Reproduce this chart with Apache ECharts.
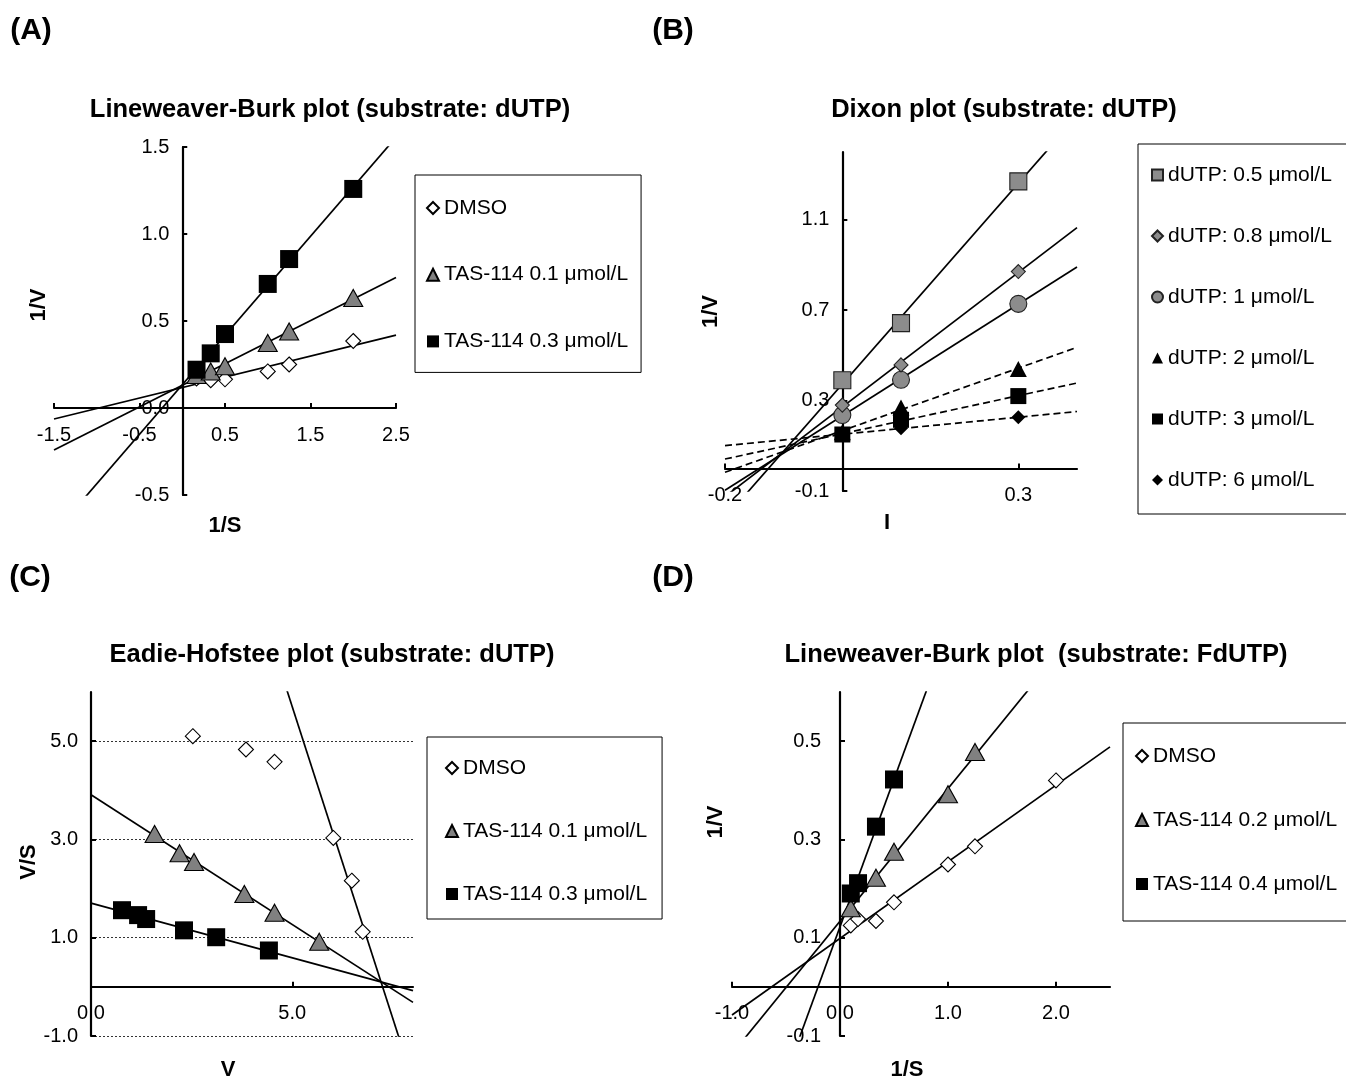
<!DOCTYPE html>
<html><head><meta charset="utf-8">
<script src="https://cdn.jsdelivr.net/npm/echarts@6/dist/echarts.min.js"></script>
<style>html,body{margin:0;padding:0;background:#fff}#c{width:1346px;height:1079px}</style>
</head><body><div id="c"></div>
<script>
// ---------- Panel A: Lineweaver-Burk (dUTP) ----------
const aInvS = [0.167, 0.333, 0.5, 1.0, 1.25, 2.0];
const aDMSO = [0.17, 0.16, 0.165, 0.21, 0.25, 0.385];
const aTAS01 = [0.19, 0.21, 0.24, 0.374, 0.44, 0.632];
const aTAS03 = [0.22, 0.314, 0.425, 0.713, 0.856, 1.259];
const aXTicks = [-1.5, -0.5, 0.5, 1.5, 2.5];
const aYTicks = [-0.5, 0, 0.5, 1.0, 1.5];
// ---------- Panel B: Dixon (dUTP) ----------
const bI = [0, 0.1, 0.3];
const bS05 = [0.39, 0.643, 1.27];
const bS08 = [0.28, 0.458, 0.871];
const bS1 = [0.236, 0.392, 0.728];
const bS2 = [0.16, 0.27, 0.44];
const bS3 = [0.15, 0.215, 0.32];
const bS6 = [0.15, 0.178, 0.226];
const bXTicks = [-0.2, 0.3];
const bYTicks = [-0.1, 0.3, 0.7, 1.1];
// ---------- Panel C: Eadie-Hofstee (dUTP) ----------
const cDMSO_V = [2.53, 3.85, 4.56, 6.02, 6.48, 6.75];
const cDMSO_VS = [5.10, 4.83, 4.58, 3.03, 2.16, 1.12];
const cDMSOFitFrom = 3;
const cTAS01_V = [1.58, 2.2, 2.56, 3.81, 4.56, 5.67];
const cTAS01_VS = [3.11, 2.72, 2.54, 1.89, 1.51, 0.92];
const cTAS03_V = [0.77, 1.17, 1.37, 2.31, 3.11, 4.42];
const cTAS03_VS = [1.56, 1.46, 1.38, 1.15, 1.01, 0.74];
const cXTicks = [0, 5];
const cYTicks = [-1, 1, 3, 5];
// ---------- Panel D: Lineweaver-Burk (FdUTP) ----------
const dDMSO_X = [0.1, 0.167, 0.333, 0.5, 1.0, 1.25, 2.0];
const dDMSO_Y = [0.125, 0.138, 0.134, 0.172, 0.249, 0.286, 0.42];
const dTAS02_X = [0.1, 0.333, 0.5, 1.0, 1.25];
const dTAS02_Y = [0.16, 0.222, 0.275, 0.392, 0.478];
const dTAS04_X = [0.1, 0.167, 0.333, 0.5];
const dTAS04_Y = [0.19, 0.211, 0.326, 0.422];
const dXTicks = [-1, 0, 1, 2];
const dYTicks = [-0.1, 0.1, 0.3, 0.5];

const FONT = 'Liberation Sans';

// layout of the four plot areas (pixels) and their value ranges
const grids = [
  { left: 54, top: 147, width: 342, height: 348 },
  { left: 725, top: 152, width: 352, height: 339 },
  { left: 91, top: 692, width: 322, height: 344 },
  { left: 732, top: 692, width: 378, height: 344 }
];
const xRanges = [[-1.5, 2.5], [-0.2, 0.4], [0, 8], [-1, 2.5]];
const yRanges = [[-0.5, 1.5], [-0.1, 1.4], [-1, 6], [-0.1, 0.6]];

function lsq(xs, ys, from) {
  from = from || 0;
  const X = xs.slice(from), Y = ys.slice(from), n = X.length;
  const mx = X.reduce((a, b) => a + b, 0) / n, my = Y.reduce((a, b) => a + b, 0) / n;
  let sxy = 0, sxx = 0;
  for (let i = 0; i < n; i++) { sxy += (X[i] - mx) * (Y[i] - my); sxx += (X[i] - mx) * (X[i] - mx); }
  const m = sxy / sxx;
  return { m: m, b: my - m * mx };
}
function trend(xs, ys, range, from) {
  const f = lsq(xs, ys, from);
  return range.map(x => [x, f.b + f.m * x]);
}
function pts(xs, ys) { return xs.map((x, i) => [x, ys[i]]); }

// offset that puts an axis on the zero line of the other axis
function zeroOffset(len, r) { return -len * (0 - r[0]) / (r[1] - r[0]); }

function axis(dim, gi, ticks, name, gap, pad, margin, split) {
  const range = dim === 'x' ? xRanges[gi] : yRanges[gi];
  const off = dim === 'x' ? zeroOffset(grids[gi].height, yRanges[gi]) : zeroOffset(grids[gi].width, xRanges[gi]);
  return {
    type: 'value', gridIndex: gi, min: range[0], max: range[1],
    position: dim === 'x' ? 'bottom' : 'left', offset: off,
    name: name, nameLocation: 'middle', nameGap: gap,
    nameTextStyle: { fontFamily: FONT, fontWeight: 'bold', fontSize: 22, color: '#000', padding: pad },
    axisLine: { show: true, onZero: false, lineStyle: { color: '#000', width: 2.2 } },
    axisTick: { show: true, inside: true, length: 5, customValues: ticks, lineStyle: { color: '#000', width: 2 } },
    axisLabel: { show: true, customValues: ticks, margin: margin, fontFamily: FONT, fontSize: 20, color: '#000',
      formatter: v => (Math.abs(v) < 1e-9 ? 0 : v).toFixed(1) },
    splitLine: split ? { show: true, lineStyle: { color: '#333', width: 1, type: [2, 2] } } : { show: false }
  };
}

function mk(symbol, size, fill, border) {
  return { symbol: symbol, symbolSize: size,
    itemStyle: { color: fill, borderColor: border || fill, borderWidth: border ? 1.1 : 0, opacity: 1 } };
}
const openDiamond = mk('diamond', [15, 15], '#ffffff', '#000000');
const grayTri = mk('triangle', [19, 17], '#808080', '#000000');
const blackSq = mk('rect', [18, 18], '#000000');
const graySq = mk('rect', [17, 17], '#8c8c8c', '#222222');
const grayDia = mk('diamond', [14, 14], '#8c8c8c', '#222222');
const grayCirc = mk('circle', 17, '#8c8c8c', '#222222');
const blackTri = mk('triangle', [17, 16], '#000000');
const blackSq2 = mk('rect', [16, 16], '#000000');
const blackDia = mk('diamond', [14, 14], '#000000');

function scatter(name, gi, data, style) {
  return Object.assign({ type: 'scatter', name: name, xAxisIndex: gi, yAxisIndex: gi, data: data, z: 5, silent: true }, style);
}
function fitLine(id, gi, data, dashed) {
  return { type: 'line', name: id, xAxisIndex: gi, yAxisIndex: gi, data: data, symbol: 'none', showSymbol: false,
    clip: true, silent: true, z: 2, lineStyle: { color: '#000', width: 1.7, opacity: 1, type: dashed ? [7, 4] : 'solid' } };
}

const series = [
  // A
  fitLine('fitA1', 0, trend(aInvS, aDMSO, xRanges[0])),
  fitLine('fitA2', 0, trend(aInvS, aTAS01, xRanges[0])),
  fitLine('fitA3', 0, trend(aInvS, aTAS03, xRanges[0])),
  scatter('DMSO', 0, pts(aInvS, aDMSO), openDiamond),
  scatter('TAS-114 0.1 μmol/L', 0, pts(aInvS, aTAS01), grayTri),
  scatter('TAS-114 0.3 μmol/L', 0, pts(aInvS, aTAS03), blackSq),
  // B
  fitLine('fitB1', 1, trend(bI, bS05, xRanges[1])),
  fitLine('fitB2', 1, trend(bI, bS08, xRanges[1])),
  fitLine('fitB3', 1, trend(bI, bS1, xRanges[1])),
  fitLine('fitB4', 1, trend(bI, bS2, xRanges[1]), true),
  fitLine('fitB5', 1, trend(bI, bS3, xRanges[1]), true),
  fitLine('fitB6', 1, trend(bI, bS6, xRanges[1]), true),
  scatter('dUTP: 6 μmol/L', 1, pts(bI, bS6), blackDia),
  scatter('dUTP: 2 μmol/L', 1, pts(bI, bS2), blackTri),
  scatter('dUTP: 3 μmol/L', 1, pts(bI, bS3), blackSq2),
  scatter('dUTP: 1 μmol/L', 1, pts(bI, bS1), grayCirc),
  scatter('dUTP: 0.8 μmol/L', 1, pts(bI, bS08), grayDia),
  scatter('dUTP: 0.5 μmol/L', 1, pts(bI, bS05), graySq),
  // C
  fitLine('fitC1', 2, trend(cDMSO_V, cDMSO_VS, xRanges[2], cDMSOFitFrom)),
  fitLine('fitC2', 2, trend(cTAS01_V, cTAS01_VS, xRanges[2])),
  fitLine('fitC3', 2, trend(cTAS03_V, cTAS03_VS, xRanges[2])),
  scatter('DMSO', 2, pts(cDMSO_V, cDMSO_VS), openDiamond),
  scatter('TAS-114 0.1 μmol/L', 2, pts(cTAS01_V, cTAS01_VS), grayTri),
  scatter('TAS-114 0.3 μmol/L', 2, pts(cTAS03_V, cTAS03_VS), blackSq),
  // D
  fitLine('fitD1', 3, trend(dDMSO_X, dDMSO_Y, xRanges[3])),
  fitLine('fitD2', 3, trend(dTAS02_X, dTAS02_Y, xRanges[3])),
  fitLine('fitD3', 3, trend(dTAS04_X, dTAS04_Y, xRanges[3])),
  scatter('DMSO', 3, pts(dDMSO_X, dDMSO_Y), openDiamond),
  scatter('TAS-114 0.2 μmol/L', 3, pts(dTAS02_X, dTAS02_Y), grayTri),
  scatter('TAS-114 0.4 μmol/L', 3, pts(dTAS04_X, dTAS04_Y), blackSq)
];

function legend(left, top, padding, gap, names, icon) {
  return {
    orient: 'vertical', left: left, top: top, padding: padding, itemGap: gap,
    itemWidth: icon, itemHeight: icon, selectedMode: false,
    borderColor: '#000', borderWidth: 1, backgroundColor: '#fff',
    itemStyle: { opacity: 1 },
    textStyle: { fontFamily: FONT, fontSize: 21, color: '#000', lineHeight: 22 },
    data: names
  };
}

function txt(x, y, text, size) {
  return { type: 'text', x: x, y: y, silent: true,
    style: { text: text, font: 'bold ' + size + 'px "' + FONT + '"', fill: '#000', align: 'center', verticalAlign: 'middle' } };
}

const option = {
  animation: false,
  backgroundColor: '#fff',
  grid: grids.map(g => Object.assign({ containLabel: false, outerBoundsMode: 'none' }, g)),
  xAxis: [
    axis('x', 0, aXTicks, '1/S', 107, [0, 0, 0, 0], 17),
    axis('x', 1, bXTicks, 'I', 44, [0, 28, 0, 0], 17),
    axis('x', 2, cXTicks, 'V', 72, [0, 48, 0, 0], 17),
    axis('x', 3, dXTicks, '1/S', 72, [0, 28, 0, 0], 17)
  ],
  yAxis: [
    axis('y', 0, aYTicks, '1/V', 132, [0, 0, 0, 32], 13),
    axis('y', 1, bYTicks, '1/V', 120, [0, 0, 0, 20], 13),
    axis('y', 2, cYTicks, 'V/S', 40, [0, 0, 0, 4], 13, true),
    axis('y', 3, dYTicks, '1/V', 113, [0, 0, 0, 84], 19)
  ],
  legend: [
    legend(415, 175, [22, 13, 20, 11], 44.7, ['DMSO', 'TAS-114 0.1 μmol/L', 'TAS-114 0.3 μmol/L'], 12),
    legend(1138, 144, [20, 26, 23, 13], 39,
      ['dUTP: 0.5 μmol/L', 'dUTP: 0.8 μmol/L', 'dUTP: 1 μmol/L', 'dUTP: 2 μmol/L', 'dUTP: 3 μmol/L', 'dUTP: 6 μmol/L'], 11),
    legend(427, 737, [20, 15, 14, 18], 41, ['DMSO', 'TAS-114 0.1 μmol/L', 'TAS-114 0.3 μmol/L'], 12),
    legend(1123, 723, [22, 20, 26, 12], 42, ['DMSO', 'TAS-114 0.2 μmol/L', 'TAS-114 0.4 μmol/L'], 12)
  ],
  graphic: [
    txt(31, 31, '(A)', 30), txt(673, 31, '(B)', 30), txt(30, 578, '(C)', 30), txt(673, 578, '(D)', 30),
    txt(330, 110, 'Lineweaver-Burk plot (substrate: dUTP)', 25.5),
    txt(1004, 110, 'Dixon plot (substrate: dUTP)', 25.5),
    txt(332, 655, 'Eadie-Hofstee plot (substrate: dUTP)', 25.5),
    txt(1036, 655, 'Lineweaver-Burk plot  (substrate: FdUTP)', 25.5)
  ],
  series: series
};

const chart = echarts.init(document.getElementById('c'), null, { renderer: 'canvas' });
chart.setOption(option);
</script></body></html>
